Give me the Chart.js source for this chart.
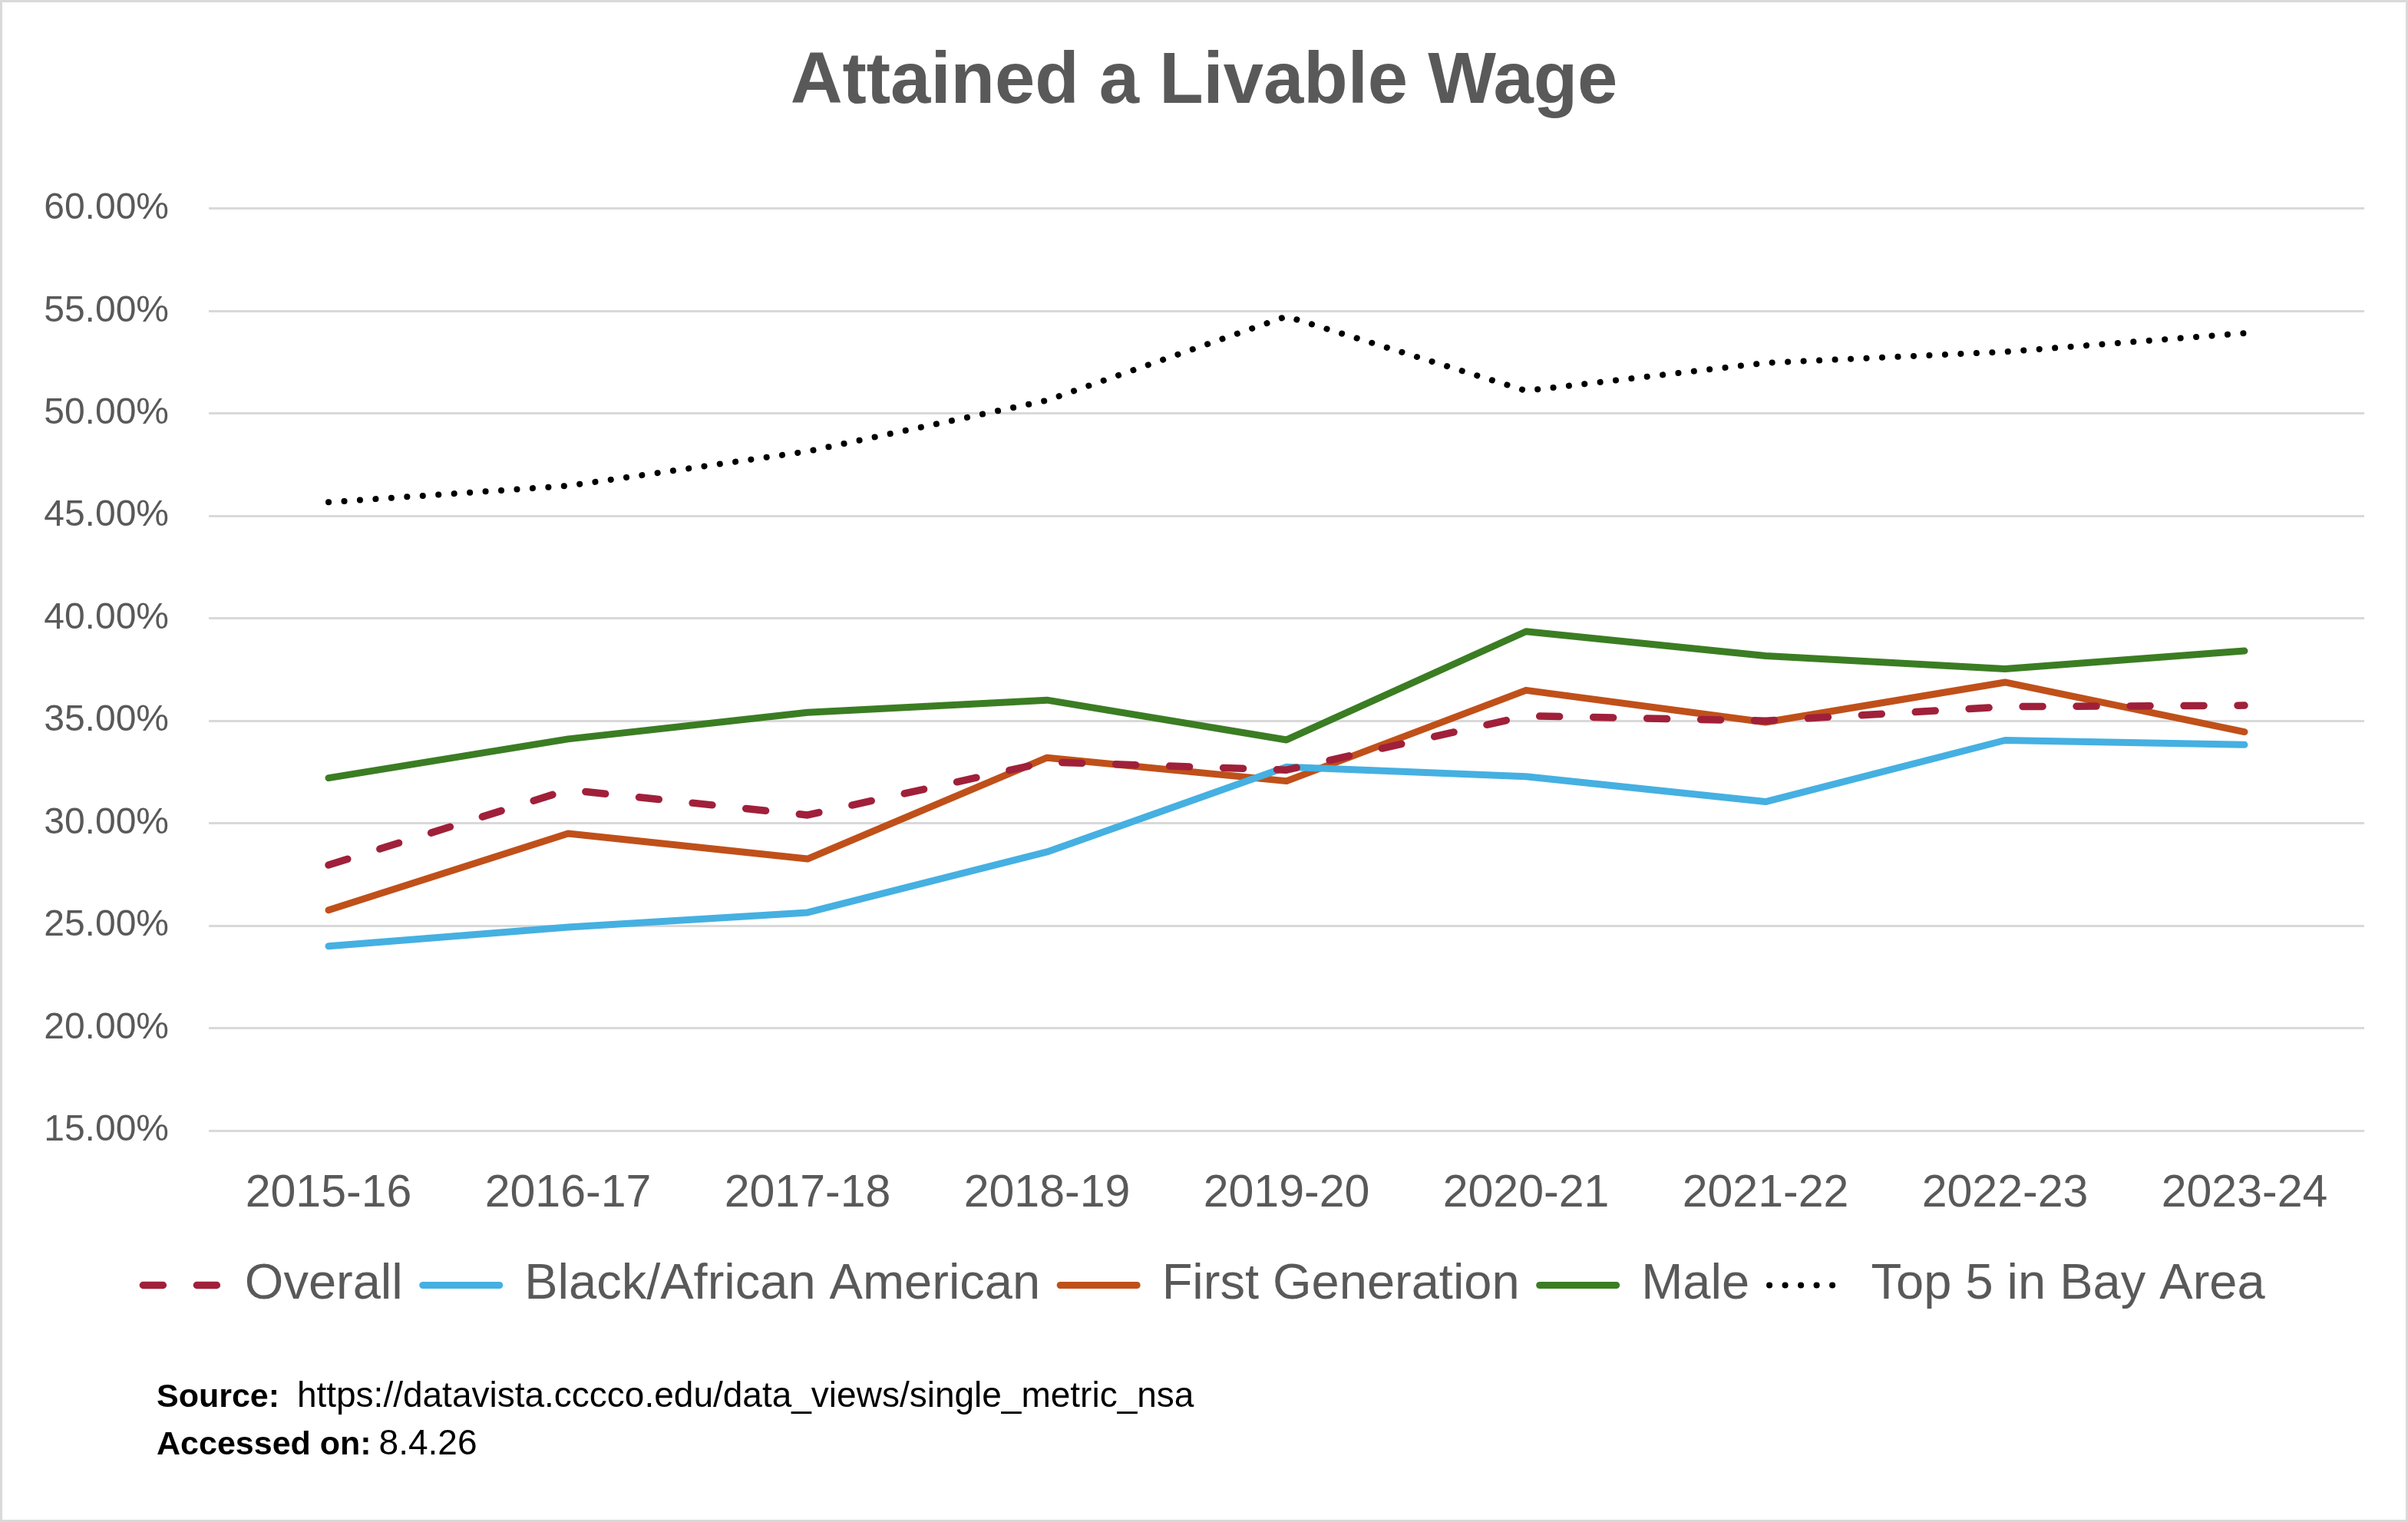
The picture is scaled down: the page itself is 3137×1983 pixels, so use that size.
<!DOCTYPE html>
<html>
<head>
<meta charset="utf-8">
<script src="https://cdn.jsdelivr.net/npm/chart.js@4.4.1/dist/chart.umd.min.js"></script>
<style>
    body { margin: 0; background: #fff; }
    #wrap { position: relative; width: 3137px; height: 1983px; overflow: hidden; }
    #c { position: absolute; left: 0; top: 0; }
    #frame { position: absolute; left: 0; top: 0; width: 3137px; height: 1983px; box-sizing: border-box; border: 3px solid #d9d9d9; pointer-events: none; }
    .src { position: absolute; left: 204px; font-family: 'Liberation Sans', Arial, sans-serif; font-size: 46px; line-height: 45px; color: #000; white-space: nowrap; }
    .src b { font-size: 43px; font-weight: bold; margin-right: 10px; }
</style>
</head>
<body>
<div id="wrap">
    <canvas id="c" width="3137" height="1983"></canvas>
    <div class="src" style="top:1795px"><b>Source:</b> https://datavista.cccco.edu/data_views/single_metric_nsa</div>
    <div class="src" style="top:1857px"><b>Accessed on:</b>8.4.26</div>
    <div id="frame"></div>
</div>
<script>
const YEARS = ['2015-16', '2016-17', '2017-18', '2018-19', '2019-20', '2020-21', '2021-22', '2022-23', '2023-24'];

const OVERALL   = [27.96, 31.63, 30.40, 32.99, 32.60, 35.24, 35.00, 35.69, 35.75];
const BLACK_AA  = [24.00, 24.93, 25.64, 28.60, 32.75, 32.28, 31.05, 34.05, 33.83];
const FIRST_GEN = [25.76, 29.50, 28.26, 33.20, 32.06, 36.49, 34.93, 36.88, 34.46];
const MALE      = [32.21, 34.11, 35.41, 36.01, 34.07, 39.36, 38.17, 37.53, 38.41];
const TOP5_BAY  = [45.67, 46.47, 48.15, 50.64, 54.74, 51.11, 52.47, 53.01, 53.92];

const Y_MIN = 15, Y_MAX = 60, Y_STEP = 5;

const textGray = '#595959';
const gridGray = '#d9d9d9';
const font = "'Liberation Sans', Arial, sans-serif";

function series(label, data, color, width, dash) {
    return {
        label, data,
        borderColor: color,
        backgroundColor: color,
        borderWidth: width,
        borderDash: dash,
        borderCapStyle: 'round',
        borderJoinStyle: 'round',
        pointRadius: 0,
        pointHoverRadius: 0,
        tension: 0,
        fill: false
    };
}

/* legend samples: copy the dataset's own stroke (width, dash, cap) */
function legendItems(chart) {
    return chart.data.datasets.map((ds, i) => ({
        text: ds.label,
        datasetIndex: i,
        hidden: false,
        fillStyle: ds.borderColor,
        strokeStyle: ds.borderColor,
        fontColor: textGray,
        lineWidth: ds.borderWidth,
        lineDash: ds.borderDash,
        lineCap: 'round',
        pointStyle: 'line'
    }));
}

new Chart(document.getElementById('c'), {
    type: 'line',
    data: {
        labels: YEARS,
        datasets: [
            series('Overall', OVERALL, '#a0203a', 9.5, [26, 44]),
            series('Black/African American', BLACK_AA, '#45b0e1', 9, []),
            series('First Generation', FIRST_GEN, '#c0501a', 9, []),
            series('Male', MALE, '#3b7d23', 9, []),
            series('Top 5 in Bay Area', TOP5_BAY, '#000000', 8, [0.1, 20.4])
        ]
    },
    options: {
        responsive: false,
        devicePixelRatio: 1,
        animation: false,
        layout: { padding: { top: 0, left: 57, right: 57, bottom: 266 } },
        plugins: {
            title: {
                display: true,
                text: 'Attained a Livable Wage',
                color: textGray,
                font: { family: font, size: 94, weight: 'bold' },
                padding: { top: 52, bottom: 107 }
            },
            legend: {
                position: 'bottom',
                labels: {
                    color: textGray,
                    font: { family: font, size: 65 },
                    usePointStyle: true,
                    pointStyleWidth: 100,
                    boxHeight: 8,
                    padding: 26,
                    generateLabels: legendItems
                }
            },
            tooltip: { enabled: false }
        },
        scales: {
            x: {
                offset: true,
                afterFit: s => { s.height = 143; },
                grid: { display: false, drawTicks: false },
                border: { display: false },
                ticks: { color: textGray, padding: 47, font: { family: font, size: 59 } }
            },
            y: {
                min: Y_MIN, max: Y_MAX,
                afterFit: s => { s.width = 215; },
                grid: { color: gridGray, lineWidth: 3, drawTicks: false },
                border: { display: false },
                ticks: {
                    stepSize: Y_STEP,
                    color: textGray,
                    padding: 52,
                    font: { family: font, size: 48 },
                    callback: v => v.toFixed(2) + '%'
                }
            }
        }
    }
});
</script>
</body>
</html>
